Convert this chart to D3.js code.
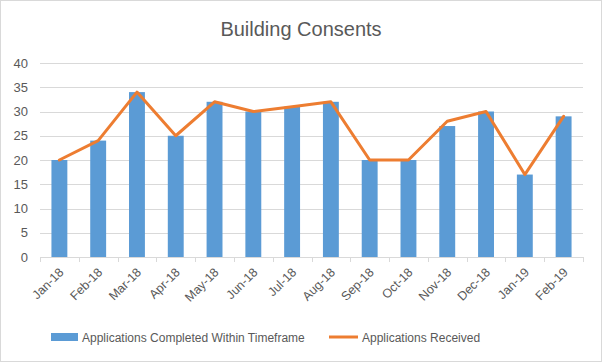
<!DOCTYPE html>
<html><head><meta charset="utf-8">
<script src="https://cdn.jsdelivr.net/npm/d3@7"></script>
<style>body{margin:0;background:#fff}svg{display:block}text{font-family:"Liberation Sans",Arial,sans-serif;fill:#595959}</style>
</head><body><svg id="c" width="602" height="362"></svg>
<script>
const categories = ["Jan-18","Feb-18","Mar-18","Apr-18","May-18","Jun-18","Jul-18","Aug-18","Sep-18","Oct-18","Nov-18","Dec-18","Jan-19","Feb-19"];
const completed = [20,24,34,25,32,30,31,32,20,20,27,30,17,29];
const received = [20,24,34,25,32,30,31,32,20,20,28,30,17,29];
const yTicks = [0,5,10,15,20,25,30,35,40];
const seriesNames = ["Applications Completed Within Timeframe","Applications Received"];

const svg = d3.select("#c");
svg.append("rect").attr("x",0.5).attr("y",0.5).attr("width",601).attr("height",361).attr("fill","#fff").attr("stroke","#d9d9d9");

const pL=40, pR=583, pT=63, pB=257;
const x = d3.scaleBand().domain(categories).range([pL,pR]).paddingInner(0.59).paddingOuter(0.295);
const xc = d3.scalePoint().domain(categories).range([pL,pR]).padding(0.5);
const y = d3.scaleLinear().domain([0,40]).range([pB,pT]);

svg.append("text").attr("x",301).attr("y",36).attr("text-anchor","middle").attr("font-size","20px").text("Building Consents");

svg.append("g").selectAll("line").data(yTicks.filter(d=>d>0)).join("line")
  .attr("x1",pL).attr("x2",pR).attr("y1",d=>Math.round(y(d))+0.5).attr("y2",d=>Math.round(y(d))+0.5)
  .attr("stroke","#d9d9d9");

const ya = svg.append("g").attr("transform",`translate(${pL},0)`)
  .call(d3.axisLeft(y).tickValues(yTicks).tickSize(0).tickPadding(12));
ya.select(".domain").remove();
ya.selectAll("text").attr("font-size","13px").style("font-family","'Liberation Sans',Arial,sans-serif").attr("fill","#595959");

svg.append("g").selectAll("rect").data(completed).join("rect")
  .attr("x",(d,i)=>x(categories[i])).attr("width",x.bandwidth())
  .attr("y",d=>y(d)).attr("height",d=>y(0)-y(d)).attr("fill","#5b9bd5");

// x axis
const step = (pR-pL)/categories.length;
const xa = svg.append("g");
xa.append("line").attr("x1",pL).attr("x2",pR).attr("y1",pB+0.5).attr("y2",pB+0.5).attr("stroke","#d9d9d9");
xa.selectAll("line.t").data(d3.range(categories.length+1)).join("line").attr("class","t")
  .attr("x1",i=>Math.round(pL+i*step)+0.5).attr("x2",i=>Math.round(pL+i*step)+0.5)
  .attr("y1",pB).attr("y2",pB+5).attr("stroke","#d9d9d9");
xa.selectAll("text").data(categories).join("text")
  .attr("transform",d=>`translate(${xc(d)+5},${pB+16}) rotate(-45)`)
  .attr("text-anchor","end").attr("font-size","12.5px").text(d=>d);

const line = d3.line().x((d,i)=>xc(categories[i])).y(d=>y(d));
svg.append("path").datum(received).attr("d",line).attr("fill","none")
  .attr("stroke","#ed7d31").attr("stroke-width",3).attr("stroke-linejoin","round").attr("stroke-linecap","round");

// legend
const lg = svg.append("g");
lg.append("rect").attr("x",51).attr("y",333).attr("width",27).attr("height",8).attr("fill","#5b9bd5");
lg.append("text").attr("x",82).attr("y",341.5).attr("font-size","12px").text(seriesNames[0]);
lg.append("line").attr("x1",329).attr("x2",358).attr("y1",337).attr("y2",337).attr("stroke","#ed7d31").attr("stroke-width",3);
lg.append("text").attr("x",362).attr("y",341.5).attr("font-size","12px").text(seriesNames[1]);
</script></body></html>
